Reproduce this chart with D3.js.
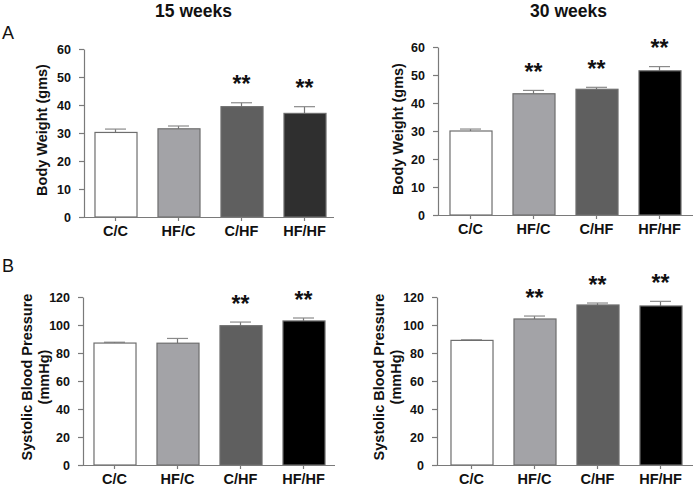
<!DOCTYPE html>
<html>
<head>
<meta charset="utf-8">
<script src="https://cdn.jsdelivr.net/npm/d3@7"></script>
<style>
  html, body { margin: 0; padding: 0; background: #fff; }
  svg { display: block; font-family: "Liberation Sans", Arial, sans-serif; }
</style>
</head>
<body>
<svg id="chart" width="697" height="487"></svg>
<script>
// ---- data ----
const categories = ["C/C", "HF/C", "C/HF", "HF/HF"];

const bodyWeight15 = [30.2, 31.5, 39.4, 37.0];
const bodyWeight15Err = [1.2, 1.0, 1.4, 2.4];
const bodyWeight15Sig = [false, false, true, true];

const bodyWeight30 = [30.0, 43.3, 44.9, 51.5];
const bodyWeight30Err = [0.7, 1.2, 0.7, 1.5];
const bodyWeight30Sig = [false, true, true, true];

const sbp15 = [87.1, 87.0, 99.5, 102.9];
const sbp15Err = [0.6, 3.4, 2.6, 2.1];
const sbp15Sig = [false, false, true, true];

const sbp30 = [89.0, 104.3, 114.3, 113.6];
const sbp30Err = [0.4, 2.1, 1.4, 3.3];
const sbp30Sig = [false, true, true, true];

const bwTicks = [0, 10, 20, 30, 40, 50, 60];
const sbpTicks = [0, 20, 40, 60, 80, 100, 120];

const columnTitles = ["15 weeks", "30 weeks"];
const rowLetters = ["A", "B"];

// ---- styles ----
const fills15 = ["#ffffff", "#a3a3a7", "#5f5f5f", "#2f2f2f"];
const fills30 = ["#ffffff", "#a3a3a7", "#5f5f5f", "#000000"];
const axisColor = "#7a7a7a";
const textColor = "#111";

const svg = d3.select("#chart");

const panels = [
  { values: bodyWeight15, err: bodyWeight15Err, sig: bodyWeight15Sig, ticks: bwTicks, max: 60,
    axisX: 84, x0: 84, x1: 336, axisEnd: 334, yTop: 49, yBot: 217, fills: fills15,
    label: ["Body Weight (gms)"], labelX: [42], labelY: 130 },
  { values: bodyWeight30, err: bodyWeight30Err, sig: bodyWeight30Sig, ticks: bwTicks, max: 60,
    axisX: 438, x0: 439, x1: 691, axisEnd: 693, yTop: 47, yBot: 215, fills: fills30,
    label: ["Body Weight (gms)"], labelX: [398], labelY: 129 },
  { values: sbp15, err: sbp15Err, sig: sbp15Sig, ticks: sbpTicks, max: 120,
    axisX: 83, x0: 83, x1: 335, axisEnd: 335, yTop: 297, yBot: 465, fills: fills30,
    label: ["Systolic Blood Pressure", "(mmHg)"], labelX: [27, 44], labelY: 377 },
  { values: sbp30, err: sbp30Err, sig: sbp30Sig, ticks: sbpTicks, max: 120,
    axisX: 437, x0: 440, x1: 692, axisEnd: 693, yTop: 297, yBot: 465, fills: fills30,
    label: ["Systolic Blood Pressure", "(mmHg)"], labelX: [379, 396], labelY: 377 }
];

panels.forEach(p => {
  const x = d3.scaleBand().domain(categories).range([p.x0, p.x1]).paddingInner(0.333).paddingOuter(0.1665);
  const y = d3.scaleLinear().domain([0, p.max]).range([p.yBot, p.yTop]);
  const g = svg.append("g");

  // error bars (upward only), drawn behind bars
  const eb = g.append("g");
  categories.forEach((c, i) => {
    const cx = x(c) + x.bandwidth() / 2;
    const top = y(p.values[i] + p.err[i]);
    eb.append("line").attr("x1", cx).attr("x2", cx)
      .attr("y1", y(p.values[i])).attr("y2", top)
      .attr("stroke", "#777").attr("stroke-width", 1.2);
    eb.append("line").attr("x1", cx - 10.5).attr("x2", cx + 10.5)
      .attr("y1", top).attr("y2", top)
      .attr("stroke", "#8a8a8a").attr("stroke-width", 1.2);
  });

  // bars
  g.append("g").selectAll("rect").data(categories).join("rect")
    .attr("x", d => x(d) + 0.5)
    .attr("y", (d, i) => y(p.values[i]))
    .attr("width", x.bandwidth())
    .attr("height", (d, i) => p.yBot - y(p.values[i]))
    .attr("fill", (d, i) => p.fills[i])
    .attr("stroke", "#6e6e6e")
    .attr("stroke-width", 1.2);

  // significance stars
  categories.forEach((c, i) => {
    if (!p.sig[i]) return;
    const cx = x(c) + x.bandwidth() / 2;
    const cy = y(p.values[i] + p.err[i]) - 23;
    g.append("text").attr("x", cx).attr("y", cy + 12.5)
      .attr("text-anchor", "middle")
      .attr("font-size", 23).attr("font-weight", "bold")
      .attr("fill", textColor).text("**");
  });

  // y axis
  const yAxis = d3.axisLeft(y).tickValues(p.ticks).tickSize(5).tickPadding(8).tickSizeOuter(0);
  const ya = g.append("g").attr("transform", `translate(${p.axisX},0)`).call(yAxis);
  ya.select(".domain").attr("stroke", axisColor).attr("stroke-width", 1.2);
  ya.selectAll(".tick line").attr("stroke", axisColor).attr("stroke-width", 1.2);
  ya.selectAll(".tick text").attr("font-size", 12.5).attr("font-weight", "bold")
    .attr("fill", textColor).attr("font-family", "Liberation Sans, Arial, sans-serif");

  // x axis
  const xAxis = d3.axisBottom(x).tickSize(4).tickPadding(5).tickSizeOuter(0);
  const xa = g.append("g").attr("transform", `translate(0,${p.yBot})`).call(xAxis);
  xa.select(".domain").remove();
  xa.append("line").attr("x1", p.axisX - 5).attr("x2", p.axisEnd)
    .attr("y1", 0.5).attr("y2", 0.5).attr("stroke", axisColor).attr("stroke-width", 1.2);
  xa.selectAll(".tick line").attr("stroke", axisColor).attr("stroke-width", 1.2);
  xa.selectAll(".tick text").attr("font-size", 14.5).attr("font-weight", "bold")
    .attr("fill", textColor).attr("font-family", "Liberation Sans, Arial, sans-serif");

  // y axis title
  p.label.forEach((t, k) => {
    g.append("text")
      .attr("transform", `translate(${p.labelX[k]},${p.labelY}) rotate(-90)`)
      .attr("text-anchor", "middle").attr("dy", "0.36em")
      .attr("font-size", 14.5).attr("font-weight", "bold")
      .attr("fill", textColor).text(t);
  });
});

// column titles
svg.append("text").attr("x", 193.5).attr("y", 16.7).attr("text-anchor", "middle")
  .attr("font-size", 17.5).attr("font-weight", "bold").attr("fill", textColor).text(columnTitles[0]);
svg.append("text").attr("x", 568.5).attr("y", 16.5).attr("text-anchor", "middle")
  .attr("font-size", 17.5).attr("font-weight", "bold").attr("fill", textColor).text(columnTitles[1]);

// row letters
svg.append("text").attr("x", 2).attr("y", 39).attr("font-size", 18).attr("fill", textColor).text(rowLetters[0]);
svg.append("text").attr("x", 2).attr("y", 272).attr("font-size", 18).attr("fill", textColor).text(rowLetters[1]);
</script>
</body>
</html>
